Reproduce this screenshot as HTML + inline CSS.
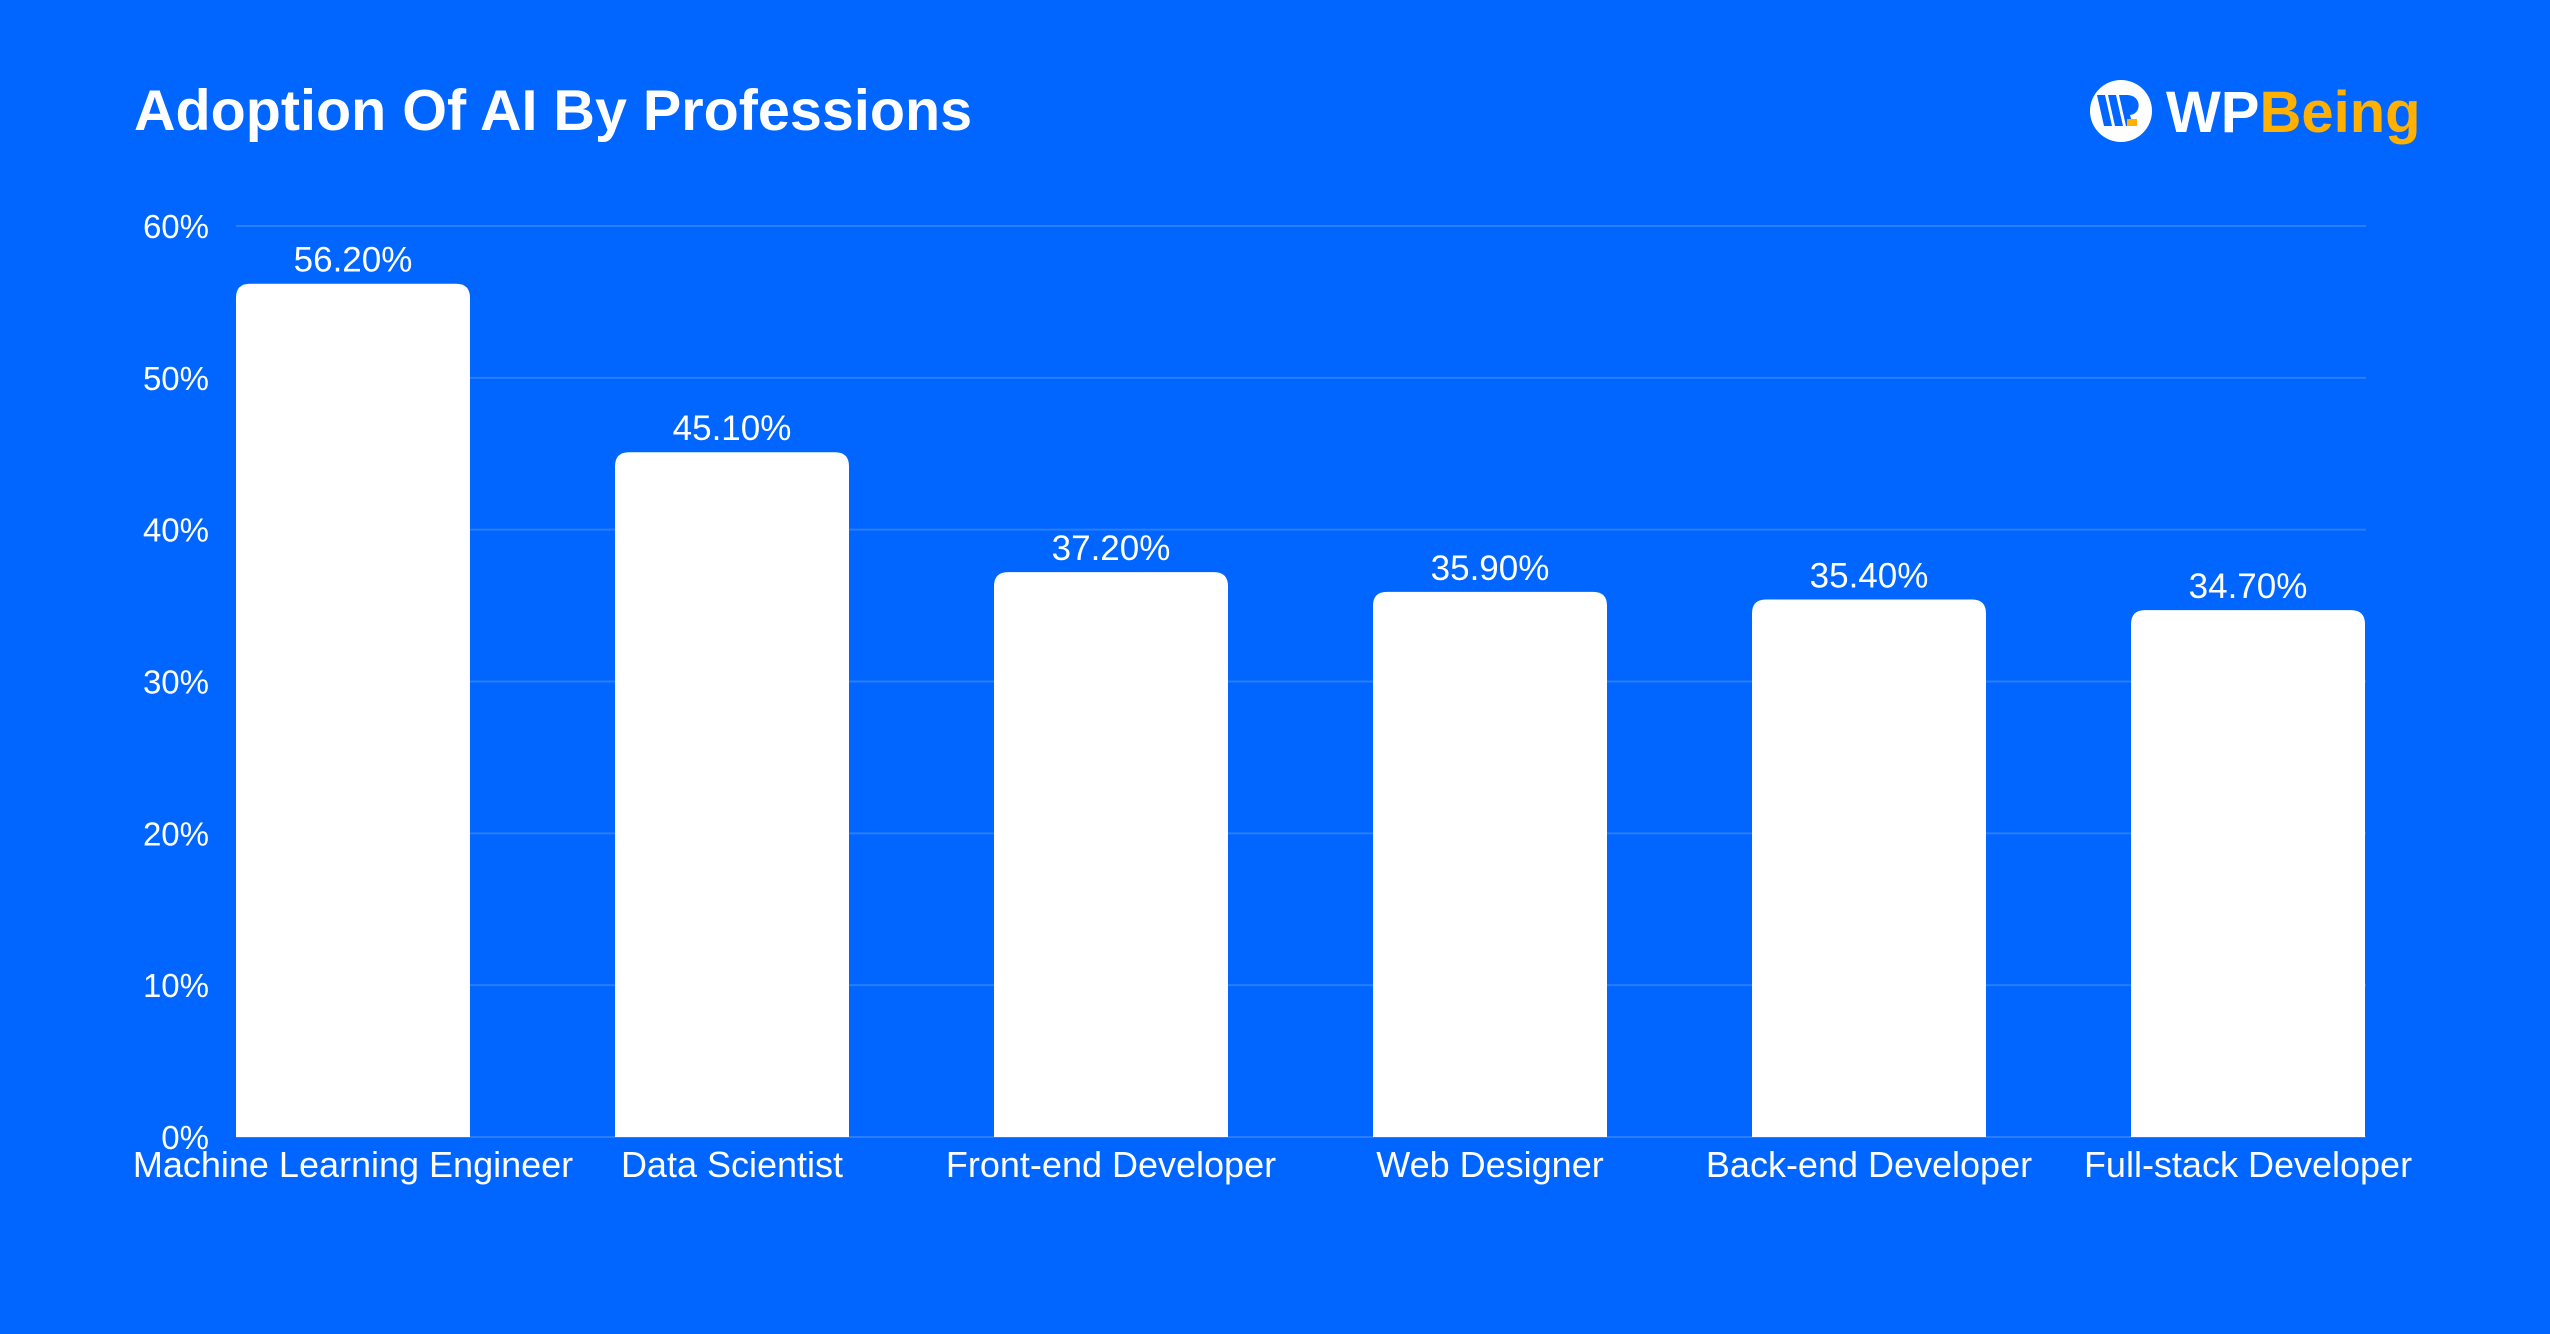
<!DOCTYPE html>
<html><head><meta charset="utf-8"><style>
html,body{margin:0;padding:0;background:#0066FF;}
svg{display:block;font-family:"Liberation Sans",sans-serif;}
</style></head><body>
<svg id="chart" width="2550" height="1334" viewBox="0 0 2550 1334" xmlns="http://www.w3.org/2000/svg">
<rect width="2550" height="1334" fill="#0066FF"/>
<text x="134" y="130" font-size="57.5" font-weight="bold" fill="#fff">Adoption Of AI By Professions</text>
<g>
<circle cx="2121" cy="111" r="31" fill="#fff"/>
<path d="M2097 95 L2105 95 L2112 126 L2104 126 Z M2108 95 L2116 95 L2123 126 L2115 126 Z M2119 95 L2127 95 C2142 95 2142 114 2130 115 L2133 126 L2126 126 Z" fill="#0066FF"/>
<rect x="2127" y="119" width="10" height="7" fill="#FFB000"/>
<text x="2166" y="132" font-size="58" font-weight="bold" fill="#fff">WP<tspan fill="#FFB000">Being</tspan></text>
</g>
<g id="grid"></g><g id="bars"></g>
</svg>
<script>
const categories = ["Machine Learning Engineer","Data Scientist","Front-end Developer","Web Designer","Back-end Developer","Full-stack Developer"];
const values = [56.2,45.1,37.2,35.9,35.4,34.7];
const valueLabels = ["56.20%","45.10%","37.20%","35.90%","35.40%","34.70%"];
const ticks = [0,10,20,30,40,50,60];
const tickLabels = ["0%","10%","20%","30%","40%","50%","60%"];
const NS="http://www.w3.org/2000/svg";
const y0=1137, yTop=226, plotL=236, plotR=2366, step=379, bw=234;
const y = v => y0 - (v/60)*(y0-yTop);
const x = i => plotL + i*step;
const grid=document.getElementById('grid'), bars=document.getElementById('bars');
function mk(tag, attrs, parent, txt){const e=document.createElementNS(NS,tag);for(const k in attrs)e.setAttribute(k,attrs[k]);if(txt!==undefined)e.textContent=txt;parent.appendChild(e);return e;}
ticks.forEach((t,i)=>{
  const l=mk('line',{x1:plotL,x2:plotR,y1:y(t),y2:y(t),stroke:'#2a7dff','stroke-width':2},grid);
  
  
  const tx=mk('text',{x:209,y:y(t)+12,'font-size':33,fill:'#fff','text-anchor':'end'},grid,tickLabels[i]);
  
  
});
values.forEach((v,i)=>{
  const top=y(v), r=14;
  const x1=x(i), x2=x(i)+bw;
  const p=mk('path',{d:`M${x1} ${y0} L${x1} ${top+r} Q${x1} ${top} ${x1+r} ${top} L${x2-r} ${top} Q${x2} ${top} ${x2} ${top+r} L${x2} ${y0} Z`,fill:'#fff'},bars);
  
  
  const vl=mk('text',{x:x1+bw/2,y:top-12,'font-size':35,fill:'#fff','text-anchor':'middle'},bars,valueLabels[i]);
  
  
  const cl=mk('text',{x:x1+bw/2,y:1177,'font-size':36,fill:'#fff','text-anchor':'middle'},bars,categories[i]);
  
  
});
</script>
</body></html>
